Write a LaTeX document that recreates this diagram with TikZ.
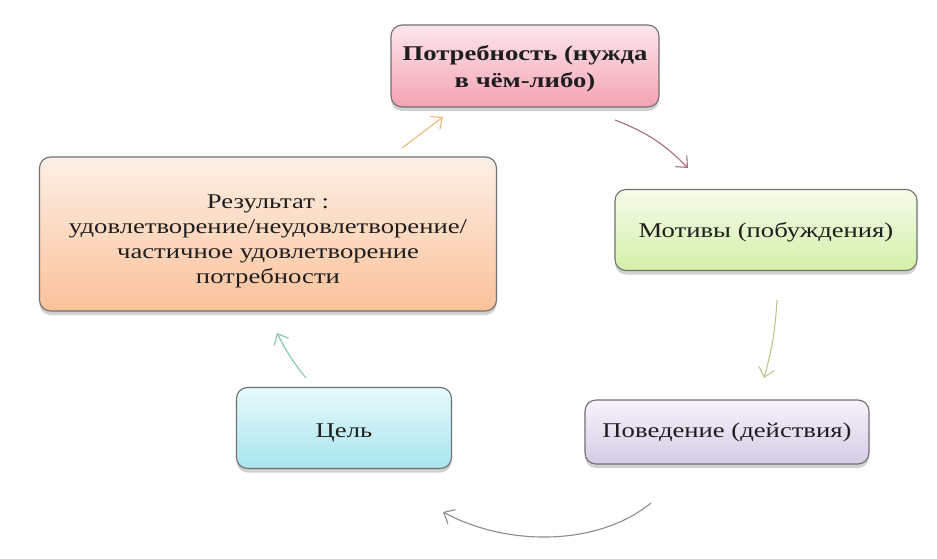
\documentclass[tikz,border=0pt]{standalone}
\usepackage{fontspec}
\setmainfont{Liberation Serif}[FakeStretch=1.27]
\usetikzlibrary{arrows.meta,shadows,calc}
\definecolor{pinkT}{HTML}{FDE6EC}
\definecolor{pinkB}{HTML}{F3A3B3}
\definecolor{greenT}{HTML}{F6FCEB}
\definecolor{greenB}{HTML}{D3EFA8}
\definecolor{lavT}{HTML}{F7F3FB}
\definecolor{lavB}{HTML}{D5CBE5}
\definecolor{cyanT}{HTML}{E6FAFC}
\definecolor{cyanB}{HTML}{A8E5EE}
\definecolor{peachT}{HTML}{FDF0E6}
\definecolor{peachB}{HTML}{FBC29A}
\definecolor{edgeC}{HTML}{707070}
\definecolor{txtC}{HTML}{1E1E1E}
\definecolor{arOrange}{HTML}{F2B77A}
\definecolor{arMauve}{HTML}{A86C7C}
\definecolor{arGreen}{HTML}{B9C98E}
\definecolor{arGrey}{HTML}{8A8A8A}
\definecolor{arTeal}{HTML}{7FC4B4}
\tikzset{
  box/.style={draw=edgeC, line width=1.1pt, rounded corners=11pt, text=txtC,
    align=center, inner sep=0pt,
    font=\fontsize{21}{25}\selectfont,
    drop shadow={shadow xshift=0pt, shadow yshift=-4pt, opacity=0.3, fill=black!60}},
  conn/.style={line width=1.1pt, -{Straight Barb[length=9pt,width=16pt,line width=1.1pt]}}
}
\begin{document}
\begin{tikzpicture}[x=1pt,y=-1pt]
\useasboundingbox (0,0) rectangle (937,559);
\node[box, top color=pinkT, bottom color=pinkB, minimum width=268pt, minimum height=82pt,
  font=\fontsize{21}{27}\selectfont\bfseries] (need) at (525,66)
  {\rule{0pt}{20pt}Потребность (нужда\\в чём-либо)};
\node[box, top color=greenT, bottom color=greenB, minimum width=302pt, minimum height=81pt] (motive) at (766,230)
  {\rule{0pt}{19pt}Мотивы (побуждения)};
\node[box, top color=lavT, bottom color=lavB, minimum width=284pt, minimum height=64pt] (behav) at (727,432)
  {Поведение (действия)};
\node[box, top color=cyanT, bottom color=cyanB, minimum width=215pt, minimum height=81pt] (goal) at (344,428)
  {\rule{0pt}{24pt}Цель};
\node[box, top color=peachT, bottom color=peachB, minimum width=457pt, minimum height=154pt] (res) at (268,234)
  {\rule{0pt}{29pt}Результат :\\удовлетворение/неудовлетворение/\\частичное удовлетворение\\потребности};

\coordinate (o1) at (402,148); \coordinate (o2) at (443,117);
\coordinate (m1) at (615,120); \coordinate (m2) at (688,168);
\coordinate (g1) at (777,300); \coordinate (g2) at (764,378);
\coordinate (k1) at (651,503); \coordinate (k2) at (443,512);
\coordinate (t1) at (306,378); \coordinate (t2) at (277,333);

\draw[conn, arOrange] (o1) -- (o2);
\draw[conn, arMauve] (m1) to[bend left=12] (m2);
\draw[conn, arGreen] (g1) to[bend left=6] (g2);
\draw[conn, arGrey] (k1) .. controls (600,545) and (510,548) .. (k2);
\draw[conn, arTeal] (t1) to[bend left=6] (t2);
\end{tikzpicture}
\end{document}
